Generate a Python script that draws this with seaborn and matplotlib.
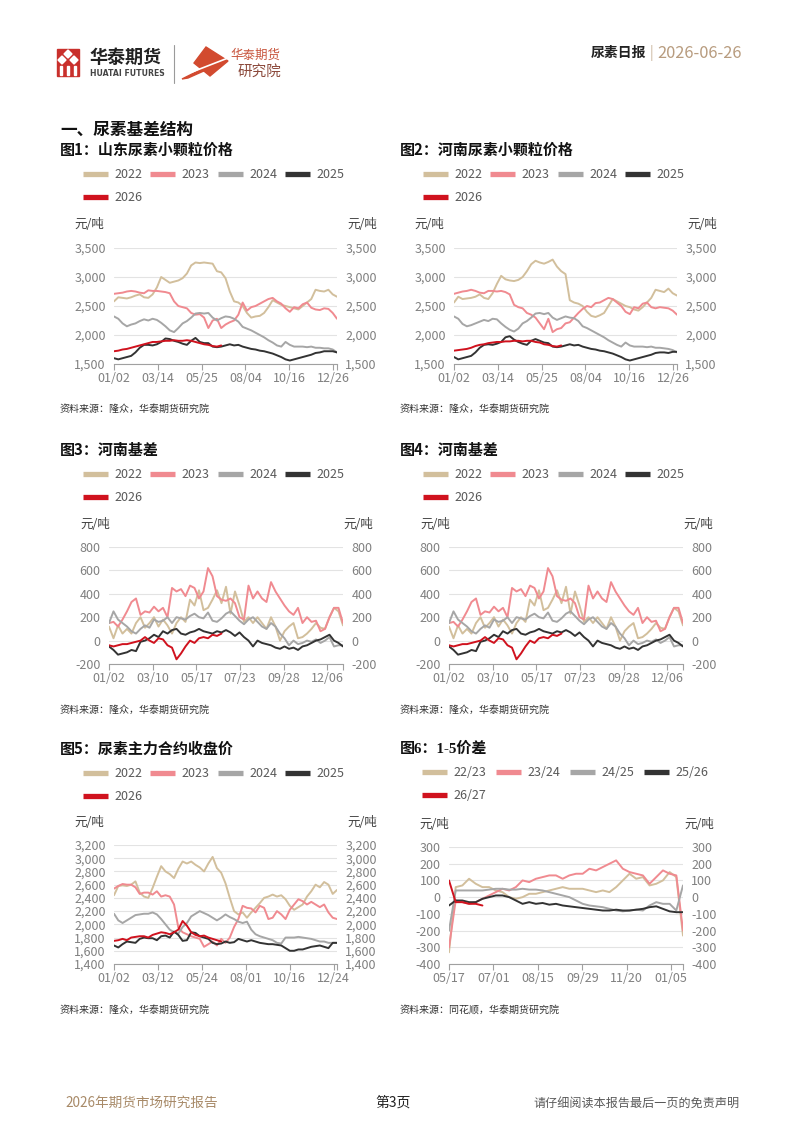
import numpy as np
import pandas as pd
import matplotlib
matplotlib.use("Agg")
import matplotlib.pyplot as plt
import seaborn as sns
from matplotlib.lines import Line2D
from matplotlib.patches import Polygon, Rectangle
from matplotlib.ticker import FuncFormatter

sns.set_theme(style="white")
plt.rcParams['font.family'] = ['Noto Sans CJK SC', 'DejaVu Sans']
plt.rcParams['axes.unicode_minus'] = False

# ---------------- data ----------------
year_labels = ['2022', '2023', '2024', '2025', '2026']
spread_labels = ['22/23', '23/24', '24/25', '25/26', '26/27']

# Fig1: Shandong urea small granule price (weekly)
sd_2022 = [2580, 2650, 2640, 2630, 2650, 2680, 2700, 2650, 2640, 2700,
           2820, 3000, 2950, 2900, 2920, 2940, 2980, 3060, 3200, 3250,
           3240, 3250, 3240, 3230, 3100, 3080, 2980, 2750, 2580, 2560,
           2500, 2380, 2300, 2320, 2330, 2380, 2480, 2600, 2560, 2520,
           2500, 2480, 2460, 2440, 2500, 2560, 2620, 2780, 2760, 2750,
           2780, 2700, 2660]
sd_2023 = [2710, 2720, 2730, 2750, 2760, 2750, 2730, 2720, 2770, 2760,
           2760, 2750, 2740, 2720, 2580, 2500, 2480, 2460, 2380, 2350,
           2360, 2300, 2120, 2250, 2280, 2120, 2180, 2220, 2250, 2350,
           2560, 2420, 2480, 2500, 2540, 2580, 2620, 2640, 2580, 2540,
           2460, 2400, 2480, 2460, 2530, 2560, 2470, 2440, 2430, 2460,
           2450, 2380, 2280]
sd_2024 = [2320, 2280, 2200, 2150, 2180, 2200, 2240, 2270, 2250, 2280,
           2260, 2210, 2150, 2080, 2050, 2120, 2200, 2240, 2300, 2370,
           2380, 2370, 2380, 2300, 2250, 2290, 2320, 2310, 2280, 2230,
           2140, 2110, 2080, 2040, 2000, 1960, 1910, 1870, 1820, 1800,
           1880, 1830, 1800, 1800, 1800, 1790, 1800, 1780, 1780, 1770,
           1770, 1750, 1700]
sd_2025 = [1600, 1580, 1600, 1620, 1640, 1700, 1780, 1830, 1830, 1820,
           1840, 1880, 1940, 1930, 1900, 1880, 1850, 1830, 1900, 1950,
           1880, 1860, 1860, 1800, 1790, 1800, 1820, 1840, 1820, 1830,
           1800, 1780, 1760, 1750, 1730, 1720, 1700, 1680, 1650, 1620,
           1580, 1560, 1580, 1600, 1620, 1640, 1660, 1690, 1700, 1720,
           1720, 1720, 1700]
sd_2026 = [1720, 1730, 1750, 1760, 1780, 1800, 1820, 1840, 1860, 1880,
           1880, 1890, 1900, 1900, 1910, 1900, 1900, 1910, 1900, 1880,
           1860, 1840, 1830, 1810, 1800, 1820]

# Fig2: Henan urea small granule price (weekly)
hn_2022 = [2560, 2660, 2620, 2630, 2640, 2660, 2700, 2640, 2620, 2720,
           2880, 3020, 2960, 2940, 2930, 2950, 3000, 3100, 3220, 3280,
           3250, 3230, 3260, 3300, 3180, 3100, 3050, 2600, 2560, 2540,
           2500, 2400, 2330, 2310, 2340, 2380, 2500, 2620, 2580, 2540,
           2500, 2480, 2440, 2420, 2480, 2560, 2640, 2780, 2760, 2740,
           2800, 2720, 2680]
hn_2023 = [2710, 2730, 2750, 2760, 2780, 2760, 2730, 2720, 2760, 2760,
           2750, 2760, 2740, 2700, 2520, 2480, 2460, 2380, 2350, 2300,
           2200, 2100, 2280, 2050, 2100, 2120, 2200, 2220, 2300, 2380,
           2450, 2500, 2480, 2550, 2560, 2600, 2640, 2620, 2560, 2500,
           2400, 2360, 2480, 2460, 2540, 2560, 2480, 2460, 2480, 2470,
           2460, 2420, 2350]
hn_2024 = [2320, 2280, 2190, 2150, 2170, 2200, 2230, 2260, 2240, 2280,
           2270, 2200, 2140, 2090, 2060, 2110, 2200, 2240, 2300, 2370,
           2380, 2360, 2380, 2300, 2260, 2290, 2320, 2300, 2290, 2240,
           2150, 2120, 2080, 2040, 2000, 1960, 1910, 1870, 1830, 1800,
           1870, 1820, 1800, 1800, 1800, 1790, 1800, 1780, 1780, 1770,
           1760, 1740, 1700]
hn_2025 = [1620, 1580, 1600, 1620, 1640, 1700, 1780, 1830, 1840, 1830,
           1850, 1880, 1960, 1980, 1920, 1880, 1850, 1830, 1900, 1930,
           1900, 1870, 1860, 1800, 1790, 1800, 1820, 1840, 1820, 1830,
           1800, 1780, 1760, 1750, 1730, 1720, 1700, 1680, 1650, 1620,
           1580, 1560, 1580, 1600, 1620, 1640, 1660, 1690, 1700, 1700,
           1690, 1710, 1710]
hn_2026 = [1730, 1740, 1750, 1760, 1780, 1810, 1830, 1840, 1860, 1870,
           1880, 1880, 1890, 1890, 1900, 1900, 1890, 1900, 1900, 1880,
           1870, 1840, 1830, 1810, 1800, 1820]

# Fig3 / Fig4: Henan basis (weekly)
bs_2022 = [120, 20, 130, 60, 100, 60, 150, 200, 110, 150,
           200, 120, 180, 130, 60, 150, 200, 160, 350, 300,
           430, 260, 280, 350, 430, 320, 460, 230, 420, 300,
           160, 200, 150, 200, 150, 100, 200, 120, 0, 80,
           120, 150, 20, 30, 60, 100, 150, 110, 100, 200,
           280, 250, 130]
bs_2023 = [150, 160, 120, 180, 250, 330, 360, 220, 250, 240,
           290, 250, 280, 200, 450, 420, 440, 380, 470, 450,
           360, 420, 620, 550, 380, 350, 340, 360, 320, 200,
           180, 470, 360, 420, 360, 330, 500, 420, 360, 300,
           250, 220, 280, 150, 200, 160, 170, 80, 100, 200,
           280, 280, 150]
bs_2024 = [150, 250, 180, 150, 120, 80, 60, 100, 130, 110,
           180, 160, 170, 200, 150, 200, 190, 180, 210, 230,
           200, 190, 240, 170, 160, 190, 230, 250, 210, 170,
           140, 180, 200, 160, 120, 100, 150, 120, 60, 20,
           -40, 0, -30, -20, 0, -10, 10, -20, 0, 30,
           -50, -40, -40]
bs_2025 = [-50, -80, -120, -110, -100, -80, -90, -10, 0, 20,
           50, 30, 80, 60, 90, 100, 60, 50, 70, 80,
           100, 80, 70, 60, 80, 70, 90, 70, 40, 70,
           30, 0, -50, 0, -20, -30, -40, -60, -70, -50,
           -70, -60, -80, -50, -40, -20, 0, 10, 30, 50,
           0, -20, -50]
bs_2026 = [-40, -50, -40, -30, -30, -20, -10, 0, 30, 0,
           -20, 20, 10, -40, -60, -160, -110, -50, 0, -20,
           20, 30, 20, 50, 40, 60]

# Fig5: urea main contract close (weekly)
ft_2022 = [2440, 2580, 2590, 2580, 2600, 2650, 2480, 2420, 2400, 2550,
           2720, 2880, 2800, 2760, 2700, 2840, 2950, 2920, 2950, 2900,
           2860, 2800, 2920, 3020, 2850, 2780, 2620, 2400, 2200, 2150,
           2180, 2100, 2180, 2250, 2320, 2400, 2420, 2450, 2420, 2440,
           2380, 2280, 2220, 2260, 2300, 2420, 2500, 2600, 2560, 2640,
           2600, 2460, 2520]
ft_2023 = [2540, 2580, 2610, 2600, 2600, 2560, 2460, 2480, 2480, 2450,
           2500, 2420, 2440, 2420, 2300, 1950, 1880, 1850, 1820, 1800,
           1780, 1660, 1700, 1740, 1680, 1780, 1720, 1800, 1960, 2080,
           2280, 2250, 2240, 2180, 2280, 2250, 2080, 2100, 2200, 2150,
           2080, 2220, 2300, 2380, 2350, 2300, 2340, 2300, 2260, 2300,
           2180, 2100, 2080]
ft_2024 = [2160, 2060, 2020, 2060, 2100, 2140, 2150, 2160, 2160, 2180,
           2150, 2080, 2000, 1920, 1880, 1860, 1960, 2020, 2120, 2160,
           2200, 2170, 2140, 2100, 2060, 2100, 2150, 2110, 2080, 2040,
           2020, 2040, 1920, 1850, 1820, 1800, 1780, 1760, 1720, 1710,
           1800, 1800, 1800, 1810, 1800, 1790, 1780, 1760, 1740, 1740,
           1720, 1720, 1720]
ft_2025 = [1680, 1650, 1700, 1740, 1730, 1720, 1780, 1800, 1790, 1790,
           1760, 1820, 1830, 1800, 1890, 1840, 1750, 1760, 1880, 1870,
           1820, 1800, 1780, 1720, 1700, 1710, 1740, 1720, 1730, 1780,
           1760, 1740, 1760, 1740, 1720, 1710, 1700, 1700, 1690, 1680,
           1640, 1600, 1600, 1620, 1620, 1640, 1660, 1670, 1680, 1660,
           1640, 1720, 1720]
ft_2026 = [1750, 1760, 1780, 1760, 1800, 1810, 1820, 1820, 1800, 1840,
           1860, 1880, 1870, 1850, 1880, 1920, 2050, 1980, 1880, 1840,
           1820, 1830, 1800, 1780, 1760, 1740]

# Fig6: 1-5 spread (weekly from 05/17)
sp_2223 = [-330, 60, 70, 110, 80, 60, 60, 40, 30, 0,
           -10, 0, 20, 20, 30, 40, 50, 60, 50, 50,
           50, 40, 30, 40, 30, 60, 100, 140, 110, 120,
           70, 80, 100, 150, 120, -230]
sp_2324 = [-300, -20, -30, -40, -30, -10, 10, 30, 50, 40,
           60, 100, 90, 110, 120, 130, 130, 110, 130, 140,
           140, 170, 160, 180, 200, 220, 170, 150, 140, 130,
           80, 120, 160, 140, 130, -200]
sp_2425 = [-200, 40, 40, 40, 40, 40, 45, 50, 50, 45,
           45, 50, 45, 45, 40, 30, 20, 10, 0, -20,
           -40, -50, -55, -60, -70, -80, -85, -80, -75, -80,
           -50, -30, -40, -40, -80, 70]
sp_2526 = [-50, -20, -20, -30, -30, -10, 0, 10, 10, 0,
           -20, -40, -30, -40, -35, -45, -40, -50, -55, -60,
           -65, -70, -75, -80, -80, -75, -80, -80, -75, -70,
           -60, -55, -70, -85, -90, -90]
sp_2627 = [100, -30, -30, -40, -40, -50]

tick_f1 = ['01/02', '03/14', '05/25', '08/04', '10/16', '12/26']
tick_f3 = ['01/02', '03/10', '05/17', '07/23', '09/28', '12/06']
tick_f5 = ['01/02', '03/12', '05/24', '08/01', '10/16', '12/24']
tick_f6 = ['05/17', '07/01', '08/15', '09/29', '11/20', '01/05']

colors = ['#D2BF9C', '#F08A90', '#A6A6A6', '#333333', '#D0121E']

# ---------------- figure ----------------
W, H = 800, 1132
fig = plt.figure(figsize=(8, 11.32), dpi=100)
fig.patch.set_facecolor('white')

ov = fig.add_axes([0, 0, 1, 1])
ov.set_xlim(0, W)
ov.set_ylim(H, 0)
ov.axis('off')

TICKC = '#808080'


def chart(rect, series, ylim, ystep, xlabels, frac, unit_l, unit_r):
    l, t, r, b = rect
    ax = fig.add_axes([l / W, 1 - b / H, (r - l) / W, (b - t) / H])
    n = max(len(s) for s in series)
    xmax = n - 1
    for vals, c in zip(series, colors):
        df = pd.DataFrame({'x': np.arange(len(vals)), 'y': vals})
        sns.lineplot(data=df, x='x', y='y', ax=ax, color=c, linewidth=1.4,
                     legend=False)
    ax.set_xlim(0, xmax)
    ax.set_ylim(*ylim)
    ax.set_yticks(np.arange(ylim[0], ylim[1] + 1, ystep))
    ax.yaxis.set_major_formatter(FuncFormatter(lambda v, p: f'{int(v):,}'))
    ax.grid(axis='y', color='#E3E3E3', linewidth=0.8)
    ax.grid(axis='x', visible=False)
    ax.set_axisbelow(True)
    for s in ['top', 'left', 'right']:
        ax.spines[s].set_visible(False)
    ax.spines['bottom'].set_color('#A0A0A0')
    ax.spines['bottom'].set_linewidth(0.8)
    ax.set_xticks(np.linspace(0, frac * xmax, 6))
    ax.set_xticklabels(xlabels)
    ax.set_xticks([xmax], minor=True)
    ax.tick_params(axis='x', which='both', direction='out', length=4, width=0.8,
                   color='#A0A0A0', labelcolor=TICKC, labelsize=9, pad=2,
                   bottom=True)
    ax.tick_params(axis='y', which='both', length=0, labelleft=True,
                   labelright=True, labelcolor=TICKC, labelsize=9, pad=6)
    ax.set_xlabel('')
    ax.set_ylabel('')
    ax.set_facecolor('none')
    ov.text(unit_l, t - 23, '元/吨', ha='right', va='center', fontsize=9,
            color='#404040')
    ov.text(unit_r, t - 23, '元/吨', ha='left', va='center', fontsize=9,
            color='#404040')
    return ax


def legend(labels, x, y, colspace):
    hs = [Line2D([], [], color=c, lw=3.8, solid_capstyle='butt') for c in colors]
    order = [0, 4, 1, 2, 3]
    fig.legend([hs[i] for i in order], [labels[i] for i in order], ncol=4,
               loc='upper left', bbox_to_anchor=(x, y),
               bbox_transform=ov.transData, frameon=False, fontsize=9,
               handlelength=2.0, handletextpad=0.5, columnspacing=colspace,
               borderpad=0, borderaxespad=0, labelspacing=0.8,
               labelcolor='#595959')


# charts
chart((114, 248, 337, 364), [sd_2022, sd_2023, sd_2024, sd_2025, sd_2026],
      (1500, 3500), 500, tick_f1, 0.982, 104, 347)
chart((454, 248, 677, 364), [hn_2022, hn_2023, hn_2024, hn_2025, hn_2026],
      (1500, 3500), 500, tick_f1, 0.982, 444, 687)
chart((109, 547, 343, 664), [bs_2022, bs_2023, bs_2024, bs_2025, bs_2026],
      (-200, 800), 200, tick_f3, 0.933, 110, 343)
chart((449, 547, 683, 664), [bs_2022, bs_2023, bs_2024, bs_2025, bs_2026],
      (-200, 800), 200, tick_f3, 0.933, 450, 683)
chart((114, 845, 337, 964), [ft_2022, ft_2023, ft_2024, ft_2025, ft_2026],
      (1400, 3200), 200, tick_f5, 0.985, 104, 347)
chart((449, 847, 683, 964), [sp_2223, sp_2324, sp_2425, sp_2526, sp_2627],
      (-400, 300), 100, tick_f6, 0.95, 449, 684)

legend(year_labels, 83, 168, 0.65)
legend(year_labels, 423, 168, 0.65)
legend(year_labels, 83, 468, 0.65)
legend(year_labels, 423, 468, 0.65)
legend(year_labels, 83, 767, 0.65)
legend(spread_labels, 422, 766, 0.8)

# titles
ov.text(60, 130, '一、尿素基差结构', fontsize=12, fontweight='bold', va='center',
        color='#111111')
titles = [(60, 150, '图1：山东尿素小颗粒价格'), (400, 150, '图2：河南尿素小颗粒价格'),
          (60, 450, '图3：河南基差'), (400, 450, '图4：河南基差'),
          (60, 749, '图5：尿素主力合约收盘价')]
for x, y, s in titles:
    ov.text(x, y, s, fontsize=10.8, fontweight='bold', va='center', color='#111111')
ov.text(400, 749, '图6：1-5价差', fontsize=10.8, fontweight='bold', va='center',
        color='#111111', family=['Liberation Serif', 'Noto Sans CJK SC'])

srcs = [(60, 409, '资料来源：隆众，华泰期货研究院'), (400, 409, '资料来源：隆众，华泰期货研究院'),
        (60, 710, '资料来源：隆众，华泰期货研究院'), (400, 710, '资料来源：隆众，华泰期货研究院'),
        (60, 1010, '资料来源：隆众，华泰期货研究院'), (400, 1010, '资料来源：同花顺，华泰期货研究院')]
for x, y, s in srcs:
    ov.text(x, y, s, fontsize=7.2, va='center', color='#333333')

# header logo
ov.add_patch(Rectangle((57, 49), 22, 27, color='#C9302C'))
for cx, cy in [(68, 54), (62, 60), (74, 60)]:
    ov.add_patch(Polygon([(cx, cy - 4), (cx + 4, cy), (cx, cy + 4), (cx - 4, cy)],
                         closed=True, color='white'))
for xb in [61, 68, 75]:
    ov.add_patch(Rectangle((xb - 1, 66), 2, 9, color='white'))
ov.text(90, 57, '华泰期货', fontsize=13, fontweight='bold', va='center',
        color='#222222')
ov.text(90, 74, 'HUATAI FUTURES', fontsize=5.6, fontweight='bold', va='center',
        color='#444444', family=['DejaVu Sans'])
ov.plot([174, 174], [45, 83], color='#9A9A9A', lw=0.8)
ov.add_patch(Polygon([(206, 47), (228, 61), (210, 76), (194, 63)], closed=True,
                     color='#D24A2F'))
ov.add_patch(Polygon([(182, 79), (220, 60), (224, 62), (188, 78)], closed=True,
                     color='#D24A2F'))
ov.plot([192, 228], [72, 58], color='white', lw=1.2)
ov.text(230, 55, '华泰期货', fontsize=9, va='center', color='#C8553D')
ov.text(238, 72, '研究院', fontsize=10.5, va='center', color='#8C4A3C')

ov.text(646, 53, '尿素日报', fontsize=10, fontweight='bold', ha='right', va='center',
        color='#222222')
ov.text(650, 53, '|', fontsize=10, ha='left', va='center', color='#C8B39A')
ov.text(742, 53, '2026-06-26', fontsize=11.8, ha='right', va='center',
        color='#B89C7F')

# footer
ov.text(65, 1103, '2026年期货市场研究报告', fontsize=9.8, va='center', color='#A88A68')
ov.text(393, 1103, '第3页', fontsize=10, ha='center', va='center', color='#222222')
ov.text(740, 1103, '请仔细阅读本报告最后一页的免责声明', fontsize=8.7, ha='right',
        va='center', color='#595959')

fig.savefig('out.png', dpi=100, facecolor='white')
